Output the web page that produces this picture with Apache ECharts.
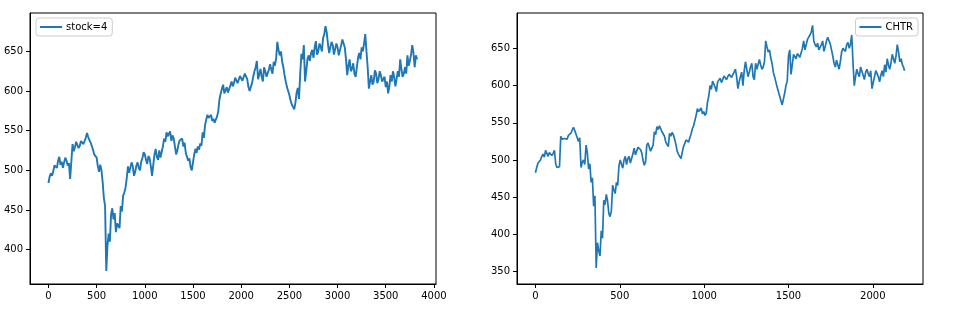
<!DOCTYPE html>
<html><head><meta charset="utf-8">
<script src="https://cdn.jsdelivr.net/npm/echarts@6/dist/echarts.min.js"></script>
<style>html,body{margin:0;padding:0;background:#fff}#c{width:968px;height:330px}</style>
</head><body><div id="c"></div>
<script>
const leftName = 'stock=4';
const rightName = 'CHTR';
const leftX = [
0,12.5,25,37.5,50,62.5,75,87.5,100,112.5,
125,137.5,150,162.5,175,187.5,200,212.5,225,237.5,
250,262.5,275,287.5,300,312.5,325,337.5,350,362.5,
375,387.5,400,412.5,425,437.5,450,462.5,475,487.5,
500,512.5,525,537.5,550,562.5,575,587.5,600,612.5,
625,637.5,650,662.5,675,687.5,700,712.5,725,737.5,
750,762.5,775,787.5,800,812.5,825,837.5,850,862.5,
875,887.5,900,912.5,925,937.5,950,962.5,975,987.5,
1000,1012.5,1025,1037.5,1050,1062.5,1075,1087.5,1100,1112.5,
1125,1137.5,1150,1162.5,1175,1187.5,1200,1212.5,1225,1237.5,
1250,1262.5,1275,1287.5,1300,1312.5,1325,1337.5,1350,1362.5,
1375,1387.5,1400,1412.5,1425,1437.5,1450,1462.5,1475,1487.5,
1500,1512.5,1525,1537.5,1550,1562.5,1575,1587.5,1600,1612.5,
1625,1637.5,1650,1662.5,1675,1687.5,1700,1712.5,1725,1737.5,
1750,1762.5,1775,1787.5,1800,1812.5,1825,1837.5,1850,1862.5,
1875,1887.5,1900,1912.5,1925,1937.5,1950,1962.5,1975,1987.5,
2000,2012.5,2025,2037.5,2050,2062.5,2075,2087.5,2100,2112.5,
2125,2137.5,2150,2162.5,2175,2187.5,2200,2212.5,2225,2237.5,
2250,2262.5,2275,2287.5,2300,2312.5,2325,2337.5,2350,2362.5,
2375,2387.5,2400,2412.5,2425,2437.5,2450,2462.5,2475,2487.5,
2500,2512.5,2525,2537.5,2550,2562.5,2575,2587.5,2600,2612.5,
2625,2637.5,2650,2662.5,2675,2687.5,2700,2712.5,2725,2737.5,
2750,2762.5,2775,2787.5,2800,2812.5,2825,2837.5,2850,2862.5,
2875,2887.5,2900,2912.5,2925,2937.5,2950,2962.5,2975,2987.5,
3000,3012.5,3025,3037.5,3050,3062.5,3075,3087.5,3100,3112.5,
3125,3137.5,3150,3162.5,3175,3187.5,3200,3212.5,3225,3237.5,
3250,3262.5,3275,3287.5,3300,3312.5,3325,3337.5,3350,3362.5,
3375,3387.5,3400,3412.5,3425,3437.5,3450,3462.5,3475,3487.5,
3500,3512.5,3525,3537.5,3550,3562.5,3575,3587.5,3600,3612.5,
3625,3637.5,3650,3662.5,3675,3687.5,3700,3712.5,3725,3737.5,
3750,3762.5,3775,3787.5,3800,3812.5,3825];
const leftY = [
484,492,496,493,499,506,505,503,512,517,
507,511,503,510,516,512,506,509,489,491,
533,524,529,536,534,528,531,537,536,533,
537,541,547,542,538,535,533,526,520,522,
516,505,498,507,500,485,465,455,373,405,
420,410,445,452,438,446,422,433,430,427,
455,448,468,472,478,490,505,497,495,510,
505,493,498,506,510,503,500,511,515,523,
520,513,508,518,515,505,493,494,520,527,
517,513,525,516,515,530,540,536,548,543,
545,549,537,544,540,530,520,525,533,538,
537,540,530,535,522,517,512,515,504,500,
510,520,527,522,530,526,534,531,548,541,
557,564,570,566,568,570,562,565,560,562,
568,575,590,597,603,608,597,601,605,598,
600,607,612,606,610,617,616,610,612,619,
618,613,614,622,624,615,605,600,598,610,
618,625,630,638,615,621,628,618,612,630,
625,618,617,627,634,627,622,637,632,641,
662,652,645,650,637,630,620,612,605,600,
595,588,583,580,577,585,598,604,590,622,
647,640,658,612,625,640,645,638,648,652,
642,655,663,646,650,660,656,650,667,672,
682,674,660,648,650,662,658,646,648,660,
655,645,643,658,665,660,655,640,620,632,
640,625,628,635,622,618,630,642,648,640,
655,650,660,672,650,630,603,612,620,608,
612,626,622,610,615,625,620,612,610,618,
605,612,597,606,620,612,625,618,606,615,
625,618,640,628,618,622,630,622,645,632,
638,646,658,648,630,645,640];
const rightX = [
0,7.5,15,22.5,30,37.5,45,52.5,60,67.5,
75,82.5,90,97.5,105,112.5,120,127.5,135,142.5,
150,157.5,165,172.5,180,187.5,195,202.5,210,217.5,
225,232.5,240,247.5,255,262.5,270,277.5,285,292.5,
300,307.5,315,322.5,330,337.5,345,352.5,360,367.5,
375,382.5,390,397.5,405,412.5,420,427.5,435,442.5,
450,457.5,465,472.5,480,487.5,495,502.5,510,517.5,
525,532.5,540,547.5,555,562.5,570,577.5,585,592.5,
600,607.5,615,622.5,630,637.5,645,652.5,660,667.5,
675,682.5,690,697.5,705,712.5,720,727.5,735,742.5,
750,757.5,765,772.5,780,787.5,795,802.5,810,817.5,
825,832.5,840,847.5,855,862.5,870,877.5,885,892.5,
900,907.5,915,922.5,930,937.5,945,952.5,960,967.5,
975,982.5,990,997.5,1005,1012.5,1020,1027.5,1035,1042.5,
1050,1057.5,1065,1072.5,1080,1087.5,1095,1102.5,1110,1117.5,
1125,1132.5,1140,1147.5,1155,1162.5,1170,1177.5,1185,1192.5,
1200,1207.5,1215,1222.5,1230,1237.5,1245,1252.5,1260,1267.5,
1275,1282.5,1290,1297.5,1305,1312.5,1320,1327.5,1335,1342.5,
1350,1357.5,1365,1372.5,1380,1387.5,1395,1402.5,1410,1417.5,
1425,1432.5,1440,1447.5,1455,1462.5,1470,1477.5,1485,1492.5,
1500,1507.5,1515,1522.5,1530,1537.5,1545,1552.5,1560,1567.5,
1575,1582.5,1590,1597.5,1605,1612.5,1620,1627.5,1635,1642.5,
1650,1657.5,1665,1672.5,1680,1687.5,1695,1702.5,1710,1717.5,
1725,1732.5,1740,1747.5,1755,1762.5,1770,1777.5,1785,1792.5,
1800,1807.5,1815,1822.5,1830,1837.5,1845,1852.5,1860,1867.5,
1875,1882.5,1890,1897.5,1905,1912.5,1920,1927.5,1935,1942.5,
1950,1957.5,1965,1972.5,1980,1987.5,1995,2002.5,2010,2017.5,
2025,2032.5,2040,2047.5,2055,2062.5,2070,2077.5,2085,2092.5,
2100,2107.5,2115,2122.5,2130,2137.5,2145,2152.5,2160,2167.5,
2175,2181.5,2188];
const rightY = [
483,490,496,494,500,505,508,504,513,509,
505,510,512,506,509,513,495,490,490,491,
532,528,526,529,530,528,533,535,536,534,
544,540,535,536,525,530,490,497,500,494,
520,510,488,495,470,476,438,452,355,389,
378,371,405,395,446,440,454,445,428,424,
432,466,460,455,470,466,492,500,498,489,
500,505,494,502,505,496,498,508,516,507,
512,517,519,514,510,500,493,497,520,523,
517,512,512,520,538,534,545,541,546,548,
538,540,532,524,522,518,536,532,537,534,
528,521,512,508,506,502,504,518,522,527,
528,524,530,535,542,546,553,560,569,565,
567,570,562,565,560,563,578,586,600,595,
606,602,598,592,605,607,610,604,608,613,
614,608,612,615,616,611,610,618,622,612,
596,605,612,618,600,620,632,622,612,618,
625,630,612,608,630,622,620,635,628,622,
625,632,660,652,645,648,637,630,618,612,
605,598,592,586,580,574,575,590,600,606,
640,648,615,628,642,640,636,643,645,638,
640,650,660,648,650,662,665,668,672,681,
660,655,652,657,648,650,655,660,646,652,
660,665,663,656,655,640,630,625,634,628,
622,632,645,650,650,646,655,658,650,656,
668,630,600,612,622,616,612,625,624,614,
608,618,622,616,612,620,596,604,612,620,
622,612,605,614,620,612,628,618,636,628,
622,630,642,636,630,640,655,645,632,636,
628,625,620];
const leftXTicks = [0,500,1000,1500,2000,2500,3000,3500,4000];
const leftYTicks = [400,450,500,550,600,650];
const rightXTicks = [0,500,1000,1500,2000];
const rightYTicks = [350,400,450,500,550,600,650];

const FONT = 'DejaVu Sans';
const lineColor = '#1f77b4';
const fmt = v => String(v);
function xAxis(gi, min, max, ticks) {
  return { type:'value', gridIndex:gi, min:min, max:max, position:'bottom',
    axisLine:{show:true, onZero:false, lineStyle:{color:'#000', width:1}},
    axisTick:{show:true, inside:false, length:4, customValues:ticks, lineStyle:{color:'#000', width:1}},
    axisLabel:{show:true, margin:7, customValues:ticks, formatter:fmt, color:'#000', fontSize:10, fontFamily:FONT},
    splitLine:{show:false} };
}
function yAxis(gi, min, max, ticks) {
  return { type:'value', gridIndex:gi, min:min, max:max, position:'left',
    axisLine:{show:true, onZero:false, lineStyle:{color:'#000', width:1}},
    axisTick:{show:true, inside:false, length:4, customValues:ticks, lineStyle:{color:'#000', width:1}},
    axisLabel:{show:true, margin:7, customValues:ticks, formatter:fmt, color:'#000', fontSize:10, fontFamily:FONT},
    splitLine:{show:false} };
}
const zip = (xs, ys) => xs.map((x, i) => [x, ys[i]]);
const legendCommon = { orient:'horizontal', icon:'rect', itemWidth:22, itemHeight:2, itemGap:8,
  backgroundColor:'rgba(255,255,255,0.8)', borderColor:'#cccccc', borderWidth:1, borderRadius:3,
  padding:[4,5,4,4], textStyle:{fontSize:10, fontFamily:FONT, color:'#000', padding:[0,0,0,-1]} };
const chart = echarts.init(document.getElementById('c'), null, {renderer:'canvas'});
chart.setOption({
  animation:false,
  backgroundColor:'#fff',
  grid:[
    {left:30, top:13, width:406, height:271, show:true, borderColor:'#000', borderWidth:1, backgroundColor:'transparent'},
    {left:517, top:13, width:406, height:271, show:true, borderColor:'#000', borderWidth:1, backgroundColor:'transparent'}
  ],
  xAxis:[ xAxis(0, -191.5, 4021.5, leftXTicks), xAxis(1, -109.4, 2297.4, rightXTicks) ],
  yAxis:[ yAxis(0, 356.5, 698.5, leftYTicks), yAxis(1, 333.5, 697.5, rightYTicks) ],
  legend:[
    Object.assign({}, legendCommon, {left:36, top:18, data:[leftName]}),
    Object.assign({}, legendCommon, {right:50, top:18, data:[rightName]})
  ],
  series:[
    {name:leftName, type:'line', xAxisIndex:0, yAxisIndex:0, data:zip(leftX, leftY), showSymbol:false, symbol:'none',
      lineStyle:{color:lineColor, width:1.9}, itemStyle:{color:lineColor}},
    {name:rightName, type:'line', xAxisIndex:1, yAxisIndex:1, data:zip(rightX, rightY), showSymbol:false, symbol:'none',
      lineStyle:{color:lineColor, width:1.7}, itemStyle:{color:lineColor}}
  ]
});
</script></body></html>
